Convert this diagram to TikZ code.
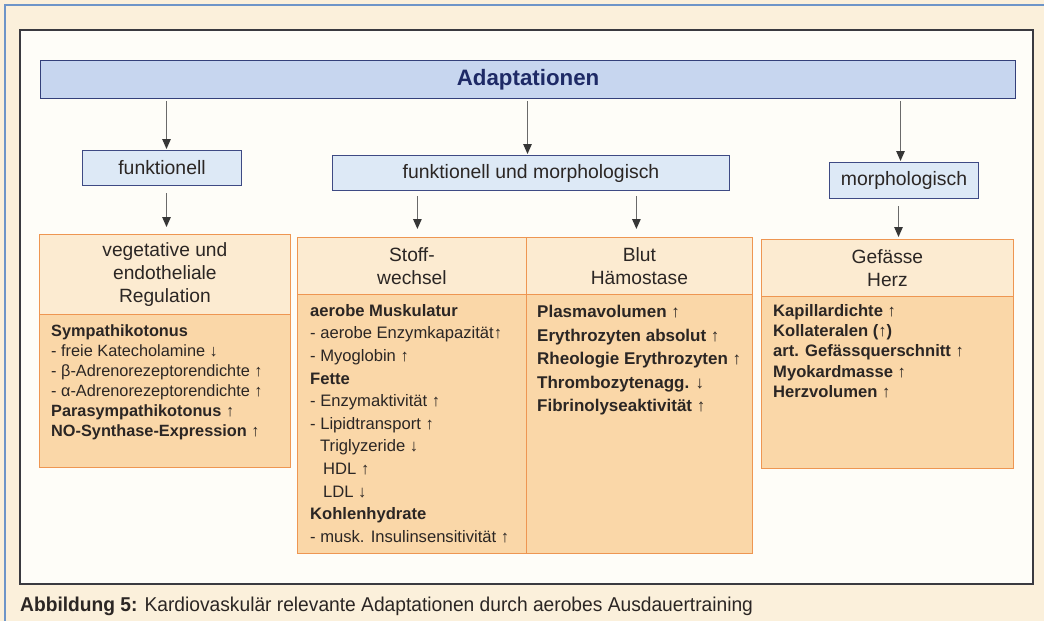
\documentclass[tikz,border=0pt]{standalone}
\usepackage{fontspec}
\setmainfont{Liberation Sans}
\newfontfamily\capfont[FakeStretch=0.96]{Liberation Sans}
\usetikzlibrary{arrows.meta,calc}
\definecolor{bgcream}{HTML}{FBF0DB}
\definecolor{frameblue}{HTML}{6E95C8}
\definecolor{innerfill}{HTML}{FEFDF8}
\definecolor{innerline}{HTML}{3A3A40}
\definecolor{adaptfill}{HTML}{C7D6EF}
\definecolor{adaptline}{HTML}{34407A}
\definecolor{navy}{HTML}{1E2A66}
\definecolor{bluefill}{HTML}{DDE9F6}
\definecolor{blueline}{HTML}{3E4A84}
\definecolor{headfill}{HTML}{FCEBD1}
\definecolor{bodyfill}{HTML}{FAD7A8}
\definecolor{orline}{HTML}{EE9652}
\definecolor{textdark}{HTML}{2B2624}
\definecolor{arrgray}{HTML}{6A6A6A}
\definecolor{tipgray}{HTML}{363636}
\begin{document}
\begin{tikzpicture}[x=1pt,y=-1pt,
  adaptbox/.style={draw=adaptline, fill=adaptfill, line width=1.2pt, inner sep=0pt, anchor=north west,
    minimum width=975pt, minimum height=38pt, font=\fontsize{22.3}{26}\selectfont\bfseries, text=navy},
  bluebox/.style={draw=blueline, fill=bluefill, line width=1pt, inner sep=0pt, anchor=north west,
    font=\fontsize{19.4}{23}\selectfont, text=textdark},
  headbox/.style={draw=orline, fill=headfill, line width=0.8pt, inner sep=0pt, anchor=north west,
    align=center, font=\fontsize{19.2}{23.2}\selectfont, text=textdark},
  bodybox/.style={draw=orline, fill=bodyfill, line width=0.8pt, inner sep=0pt, anchor=north west},
  bodytext/.style={anchor=north west, inner sep=0pt, align=left, text=textdark},
  arr/.style={draw=arrgray, line width=1.2pt, -{Triangle[length=10pt,width=8.5pt,color=tipgray]}}
]
\useasboundingbox (0,0) rectangle (1044,621);
% background and frames
\fill[bgcream] (0,0) rectangle (1044,621);
\draw[frameblue, line width=1.6pt] (5,621) -- (5,5) -- (1044,5);
\draw[innerline, fill=innerfill, line width=1.2pt] (20,30) rectangle (1033,584);
\draw[innerline, line width=2pt] (20,584) -- (1033,584) -- (1033,30);

% top box
\node[adaptbox] (adapt) at (40,60) {Adaptationen};

% second row
\node[bluebox, minimum width=159pt, minimum height=35pt] (funk) at (82,150) {funktionell};
\node[bluebox, minimum width=397pt, minimum height=35pt] (fum) at (332,155) {funktionell und morphologisch};
\node[bluebox, minimum width=149pt, minimum height=36pt] (morph) at (829,162) {morphologisch};

% third row headers and bodies
\node[headbox, minimum width=251pt, minimum height=80pt] (vegH) at (39,234) {vegetative und\\endotheliale\\Regulation};
\node[bodybox, minimum width=251pt, minimum height=153pt] (vegB) at (39,314) {};
\node[headbox, minimum width=229pt, minimum height=57pt] (stoffH) at (297,237) {Stoff-\\wechsel};
\node[bodybox, minimum width=229pt, minimum height=259pt] (stoffB) at (297,294) {};
\node[headbox, minimum width=226pt, minimum height=57pt] (blutH) at (526,237) {Blut\\Hämostase};
\node[bodybox, minimum width=226pt, minimum height=259pt] (blutB) at (526,294) {};
\node[headbox, minimum width=252pt, minimum height=57pt] (gefH) at (761,239) {Gefässe\\Herz};
\node[bodybox, minimum width=252pt, minimum height=172pt] (gefB) at (761,296) {};

% body texts
\node[bodytext, font=\fontsize{16.3}{20}\selectfont] (vegT) at (51,324) {%
\textbf{Sympathikotonus}\\
- freie Katecholamine ↓\\
- β-Adrenorezeptorendichte ↑\\
- α-Adrenorezeptorendichte ↑\\
\textbf{Parasympathikotonus ↑}\\
\textbf{NO-Synthase-Expression ↑}};

\node[bodytext, font=\fontsize{16.6}{22.6}\selectfont] (stoffT) at (310,304) {%
\textbf{aerobe Muskulatur}\\
- aerobe Enzymkapazität↑\\
- Myoglobin ↑\\
\textbf{Fette}\\
- Enzymaktivität ↑\\
- Lipidtransport ↑\\
\hspace*{10pt}Triglyzeride ↓\\
\hspace*{13pt}HDL ↑\\
\hspace*{13pt}LDL ↓\\
\textbf{Kohlenhydrate}\\
- musk. Insulinsensitivität ↑};

\node[bodytext, font=\fontsize{17}{23.5}\selectfont\bfseries] (blutT) at (537,305) {%
Plasmavolumen ↑\\
Erythrozyten absolut ↑\\
Rheologie Erythrozyten ↑\\
Thrombozytenagg. ↓\\
Fibrinolyseaktivität ↑};

\node[bodytext, font=\fontsize{16.6}{20.3}\selectfont\bfseries] (gefT) at (773,304) {%
Kapillardichte ↑\\
Kollateralen (↑)\\
art. Gefässquerschnitt ↑\\
Myokardmasse ↑\\
Herzvolumen ↑};

% arrows
\draw[arr] ($(adapt.south -| funk.north)+(4.5,2)$) -- ($(funk.north)+(4.5,-1)$);
\draw[arr] ($(adapt.south -| fum.north)+(-3.5,2)$) -- ($(fum.north)+(-3.5,-1)$);
\draw[arr] ($(adapt.south -| morph.north)+(-3.5,2)$) -- ($(morph.north)+(-3.5,-1)$);
\draw[arr] ($(funk.south)+(4.5,7)$) -- ($(vegH.north -| funk.south)+(4.5,-7)$);
\draw[arr] ($(fum.south -| stoffH.north)+(5.5,5)$) -- ($(stoffH.north)+(5.5,-8)$);
\draw[arr] ($(fum.south -| blutH.north)+(-3,5)$) -- ($(blutH.north)+(-3,-8)$);
\draw[arr] ($(morph.south)+(-5.5,7)$) -- ($(gefH.north -| morph.south)+(-5.5,-2)$);

% caption
\node[anchor=base west, inner sep=0pt, text=textdark, font=\capfont\fontsize{20}{23}\selectfont] (cap) at (20,611)
  {\textbf{Abbildung 5:} Kardiovaskulär relevante Adaptationen durch aerobes Ausdauertraining};
\end{tikzpicture}
\end{document}
